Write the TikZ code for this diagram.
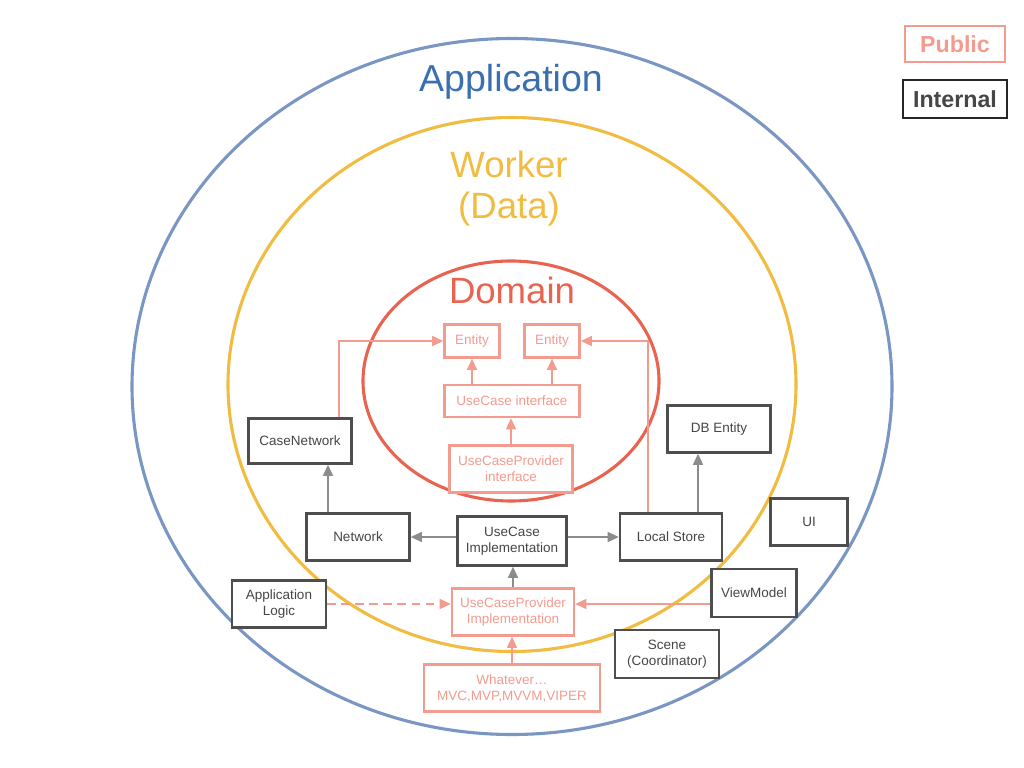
\documentclass[tikz,border=0pt]{standalone}
\usepackage{fontspec}
\setmainfont{Liberation Sans}
\usetikzlibrary{arrows.meta}
\usetikzlibrary{positioning}

\definecolor{appblue}{RGB}{58,112,176}
\definecolor{ringblue}{RGB}{122,150,194}
\definecolor{workyellow}{RGB}{240,188,66}
\definecolor{domred}{RGB}{232,100,80}
\definecolor{pubred}{RGB}{243,155,143}
\definecolor{intgray}{RGB}{78,78,78}
\definecolor{inttext}{RGB}{70,70,70}
\definecolor{arrgray}{RGB}{140,140,140}

\begin{document}
\begin{tikzpicture}[x=0.025cm,y=-0.025cm,node distance=2cm,
  every node/.style={font=\fontsize{9.6}{11.4}\selectfont,align=center,inner sep=1pt},
  pub/.style={draw=pubred,text=pubred,line width=1.6pt,fill=white},
  intl/.style={draw=intgray,text=inttext,line width=1.6pt,fill=white},
  grayarr/.style={draw=arrgray,line width=1.4pt,-{Triangle[length=8pt,width=7pt]}},
  pubarr/.style={draw=pubred,line width=1.4pt,-{Triangle[length=8pt,width=7pt]}},
  title/.style={font=\fontsize{26}{29}\selectfont,anchor=base}]
  \path[fill=white,use as bounding box] (0,0) rectangle (1024,768);

  \draw[ringblue,line width=2.2pt] (512,386.5) ellipse [x radius=380,y radius=348];
  \draw[workyellow,line width=2.2pt] (512,384.5) ellipse [x radius=284,y radius=267];
  \draw[domred,line width=2.2pt] (511,381) ellipse [x radius=148,y radius=120];

  \node[title,text=appblue,font=\fontsize{26.7}{29}\selectfont] (apptitle) at (511,92) {Application};
  \node[title,text=workyellow] (worktitle) at (509,218) {Worker\\(Data)};
  \node[title,text=domred] (domtitle) at (512,303) {Domain};

  % domain
  \node[pub,minimum width=1.375cm,minimum height=0.825cm] (ent1) at (472,341) {Entity};
  \node[pub,minimum width=1.375cm,minimum height=0.825cm,right of=ent1] (ent2) {Entity};
  \node[pub,minimum width=3.375cm,minimum height=0.8cm] (uci) at (512,401) {UseCase interface};
  \node[pub,minimum width=3.075cm,minimum height=1.175cm] (ucpi) at (511,469) {UseCaseProvider\\interface};

  % worker
  \node[intl,minimum width=2.575cm,minimum height=1.125cm] (casenet) at (300,441) {CaseNetwork};
  \node[intl,minimum width=2.575cm,minimum height=1.175cm] (dbent) at (719,429) {DB Entity};
  \node[intl,minimum width=2.575cm,minimum height=1.175cm] (net) at (358,537) {Network};
  \node[intl,minimum width=2.725cm,minimum height=1.225cm] (ucimpl) at (512,541) {UseCase\\Implementation};
  \node[intl,minimum width=2.55cm,minimum height=1.175cm] (store) at (671,537) {Local Store};
  \node[pub,minimum width=3.05cm,minimum height=1.175cm] (ucpimpl) at (513,612) {UseCaseProvider\\Implementation};

  % application
  \node[intl,minimum width=1.925cm,minimum height=1.175cm] (ui) at (809,522) {UI};
  \node[intl,minimum width=2.35cm,minimum height=1.175cm] (applogic) at (279,604) {Application\\Logic};
  \node[intl,minimum width=2.125cm,minimum height=1.2cm] (vm) at (754,593) {ViewModel};
  \node[intl,minimum width=2.6cm,minimum height=1.2cm] (scene) at (667,654) {Scene\\(Coordinator)};
  \node[pub,minimum width=4.4cm,minimum height=1.175cm] (whatever) at (512,688) {Whatever\dots\\MVC,MVP,MVVM,VIPER};

  % legend
  \node[pub,line width=2pt,font=\bfseries\fontsize{16.5}{18}\selectfont,minimum width=2.5cm,minimum height=0.9cm] (public) at (955,44) {Public};
  \node[intl,draw=black!85,line width=2pt,font=\bfseries\fontsize{16.5}{18}\selectfont,minimum width=2.6cm,minimum height=0.95cm] (internal) at (955,99) {Internal};

  \draw[pubarr] (uci.north -| ent1) -- (ent1);
  \draw[pubarr] (uci.north -| ent2) -- (ent2);
  \draw[pubarr] (ucpi.north) -- (ucpi.north |- uci.south);
  \draw[pubarr] ([xshift=-0.35cm]casenet.north east) |- (ent1.west);
  \draw[pubarr] ([xshift=-0.575cm]store.north) |- (ent2.east);
  \draw[grayarr] ([xshift=-0.75cm]net.north) -- ([xshift=-0.75cm]net.north |- casenet.south);
  \draw[grayarr] ([xshift=0.675cm]store.north) -- ([xshift=0.675cm]store.north |- dbent.south);
  \draw[grayarr] (ucimpl.west |- net) -- (net.east);
  \draw[grayarr] (ucimpl.east |- store) -- (store.west);
  \draw[grayarr] (ucpimpl.north) -- (ucpimpl.north |- ucimpl.south);
  \draw[pubarr,dashed,dash pattern=on 6pt off 4pt] (applogic.east) -- (applogic.east -| ucpimpl.west);
  \draw[pubarr] ([yshift=-0.275cm]vm.west) -- ([yshift=-0.275cm]vm.west -| ucpimpl.east);
  \draw[pubarr] (whatever.north) -- (whatever.north |- ucpimpl.south);
\end{tikzpicture}
\end{document}
